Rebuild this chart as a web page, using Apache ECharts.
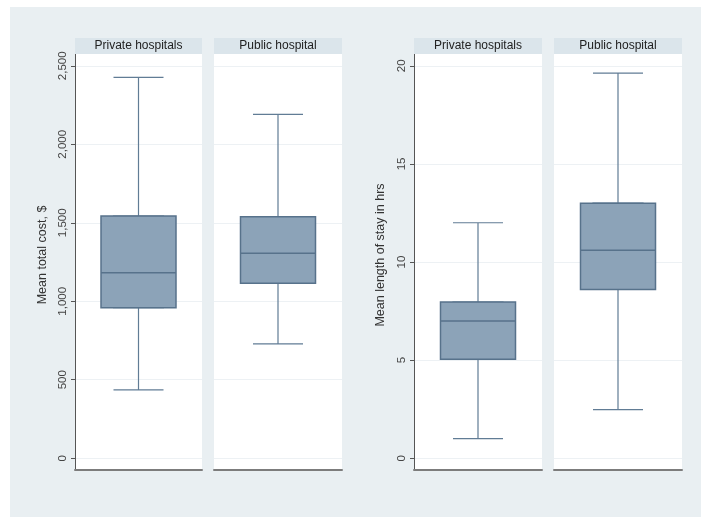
<!DOCTYPE html>
<html><head><meta charset="utf-8">
<script src="https://cdn.jsdelivr.net/npm/echarts@6/dist/echarts.min.js"></script>
<style>html,body{margin:0;padding:0;background:#fff}#c{width:701px;height:517px}</style>
</head><body><div id="c"></div>
<script>
const groups = ['Private hospitals', 'Public hospital'];
// [lower whisker, Q1, median, Q3, upper whisker]
const costPrivate = [435, 959, 1182, 1543, 2426];
const costPublic = [728, 1114, 1305, 1538, 2190];
const stayPrivate = [1.0, 5.04, 6.99, 7.96, 12.0];
const stayPublic = [2.48, 8.6, 10.6, 13.0, 19.63];
const costTicks = [0, 500, 1000, 1500, 2000, 2500];
const costTickLabels = ['0', '500', '1,000', '1,500', '2,000', '2,500'];
const stayTicks = [0, 5, 10, 15, 20];
const stayTickLabels = ['0', '5', '10', '15', '20'];
const costTitle = 'Mean total cost, $';
const stayTitle = 'Mean length of stay in hrs';

const panels = [
  {left: 75, width: 127, data: costPrivate, g: 0, ticks: costTicks, labels: costTickLabels, min: -75, max: 2575, first: true, title: costTitle, gap: 26},
  {left: 214, width: 128, data: costPublic, g: 1, ticks: costTicks, labels: costTickLabels, min: -75, max: 2575, first: false},
  {left: 414, width: 128, data: stayPrivate, g: 0, ticks: stayTicks, labels: stayTickLabels, min: -0.6, max: 20.6, first: true, title: stayTitle, gap: 27},
  {left: 554, width: 128, data: stayPublic, g: 1, ticks: stayTicks, labels: stayTickLabels, min: -0.6, max: 20.6, first: false}
];

const FILL = '#8ca3b8';
const FONT = 'Liberation Sans, Arial, sans-serif';
const grid = [], xAxis = [], yAxis = [], series = [];
panels.forEach((p, i) => {
  grid.push({left: p.left, top: 54, width: p.width, height: 416, show: true, backgroundColor: '#ffffff', borderWidth: 0});
  xAxis.push({
    type: 'category', gridIndex: i, data: [groups[p.g]],
    axisLine: {show: true, onZero: false, lineStyle: {color: '#7c7c7c', width: 2}},
    axisTick: {show: false}, axisLabel: {show: false}, splitLine: {show: false}
  });
  xAxis.push({
    type: 'category', gridIndex: i, position: 'top', data: [groups[p.g]],
    axisLine: {show: false, onZero: false}, axisTick: {show: false}, splitLine: {show: false},
    axisLabel: {
      show: true, margin: 0, backgroundColor: '#dbe5eb', width: p.width, height: 16, lineHeight: 16,
      align: 'center', fontSize: 12, color: '#222', fontFamily: FONT
    }
  });
  yAxis.push({
    type: 'value', gridIndex: i, min: p.min, max: p.max,
    name: p.first ? p.title : '', nameLocation: 'middle', nameGap: p.gap || 30,
    nameTextStyle: {fontSize: 12.5, color: '#333', fontFamily: FONT, padding: [0, 0, 0, 14]},
    axisLine: {show: p.first, lineStyle: {color: '#555', width: 1}},
    axisTick: {show: p.first, customValues: p.ticks, length: 4, lineStyle: {color: '#555'}},
    axisLabel: {
      show: p.first, customValues: p.ticks, rotate: 90, margin: 6, fontSize: 11.5, color: '#444',
      fontFamily: FONT,
      formatter: v => { const k = p.ticks.indexOf(v); return k >= 0 ? p.labels[k] : ''; }
    },
    splitLine: {show: true, lineStyle: {color: '#edf1f4', width: 1}}
  });
  series.push({
    type: 'boxplot', xAxisIndex: 2 * i, yAxisIndex: i, data: [p.data], boxWidth: [50, 50],
    itemStyle: {color: FILL, borderColor: '#617c95', borderWidth: 1.2}, z: 2, silent: true
  });
  series.push({
    type: 'boxplot', xAxisIndex: 2 * i + 1, yAxisIndex: i,
    data: [[p.data[1], p.data[1], p.data[2], p.data[3], p.data[3]]], boxWidth: [75, 75],
    itemStyle: {color: FILL, borderColor: '#57728b', borderWidth: 1.5}, z: 3, silent: true
  });
});

const chart = echarts.init(document.getElementById('c'));
chart.setOption({
  animation: false,
  backgroundColor: '#e9eff2',
  graphic: {elements: [
    {type: 'rect', left: 0, top: 0, shape: {width: 701, height: 7}, style: {fill: '#ffffff'}},
    {type: 'rect', left: 0, top: 0, shape: {width: 10, height: 517}, style: {fill: '#ffffff'}}
  ]},
  grid, xAxis, yAxis, series
});
</script></body></html>
